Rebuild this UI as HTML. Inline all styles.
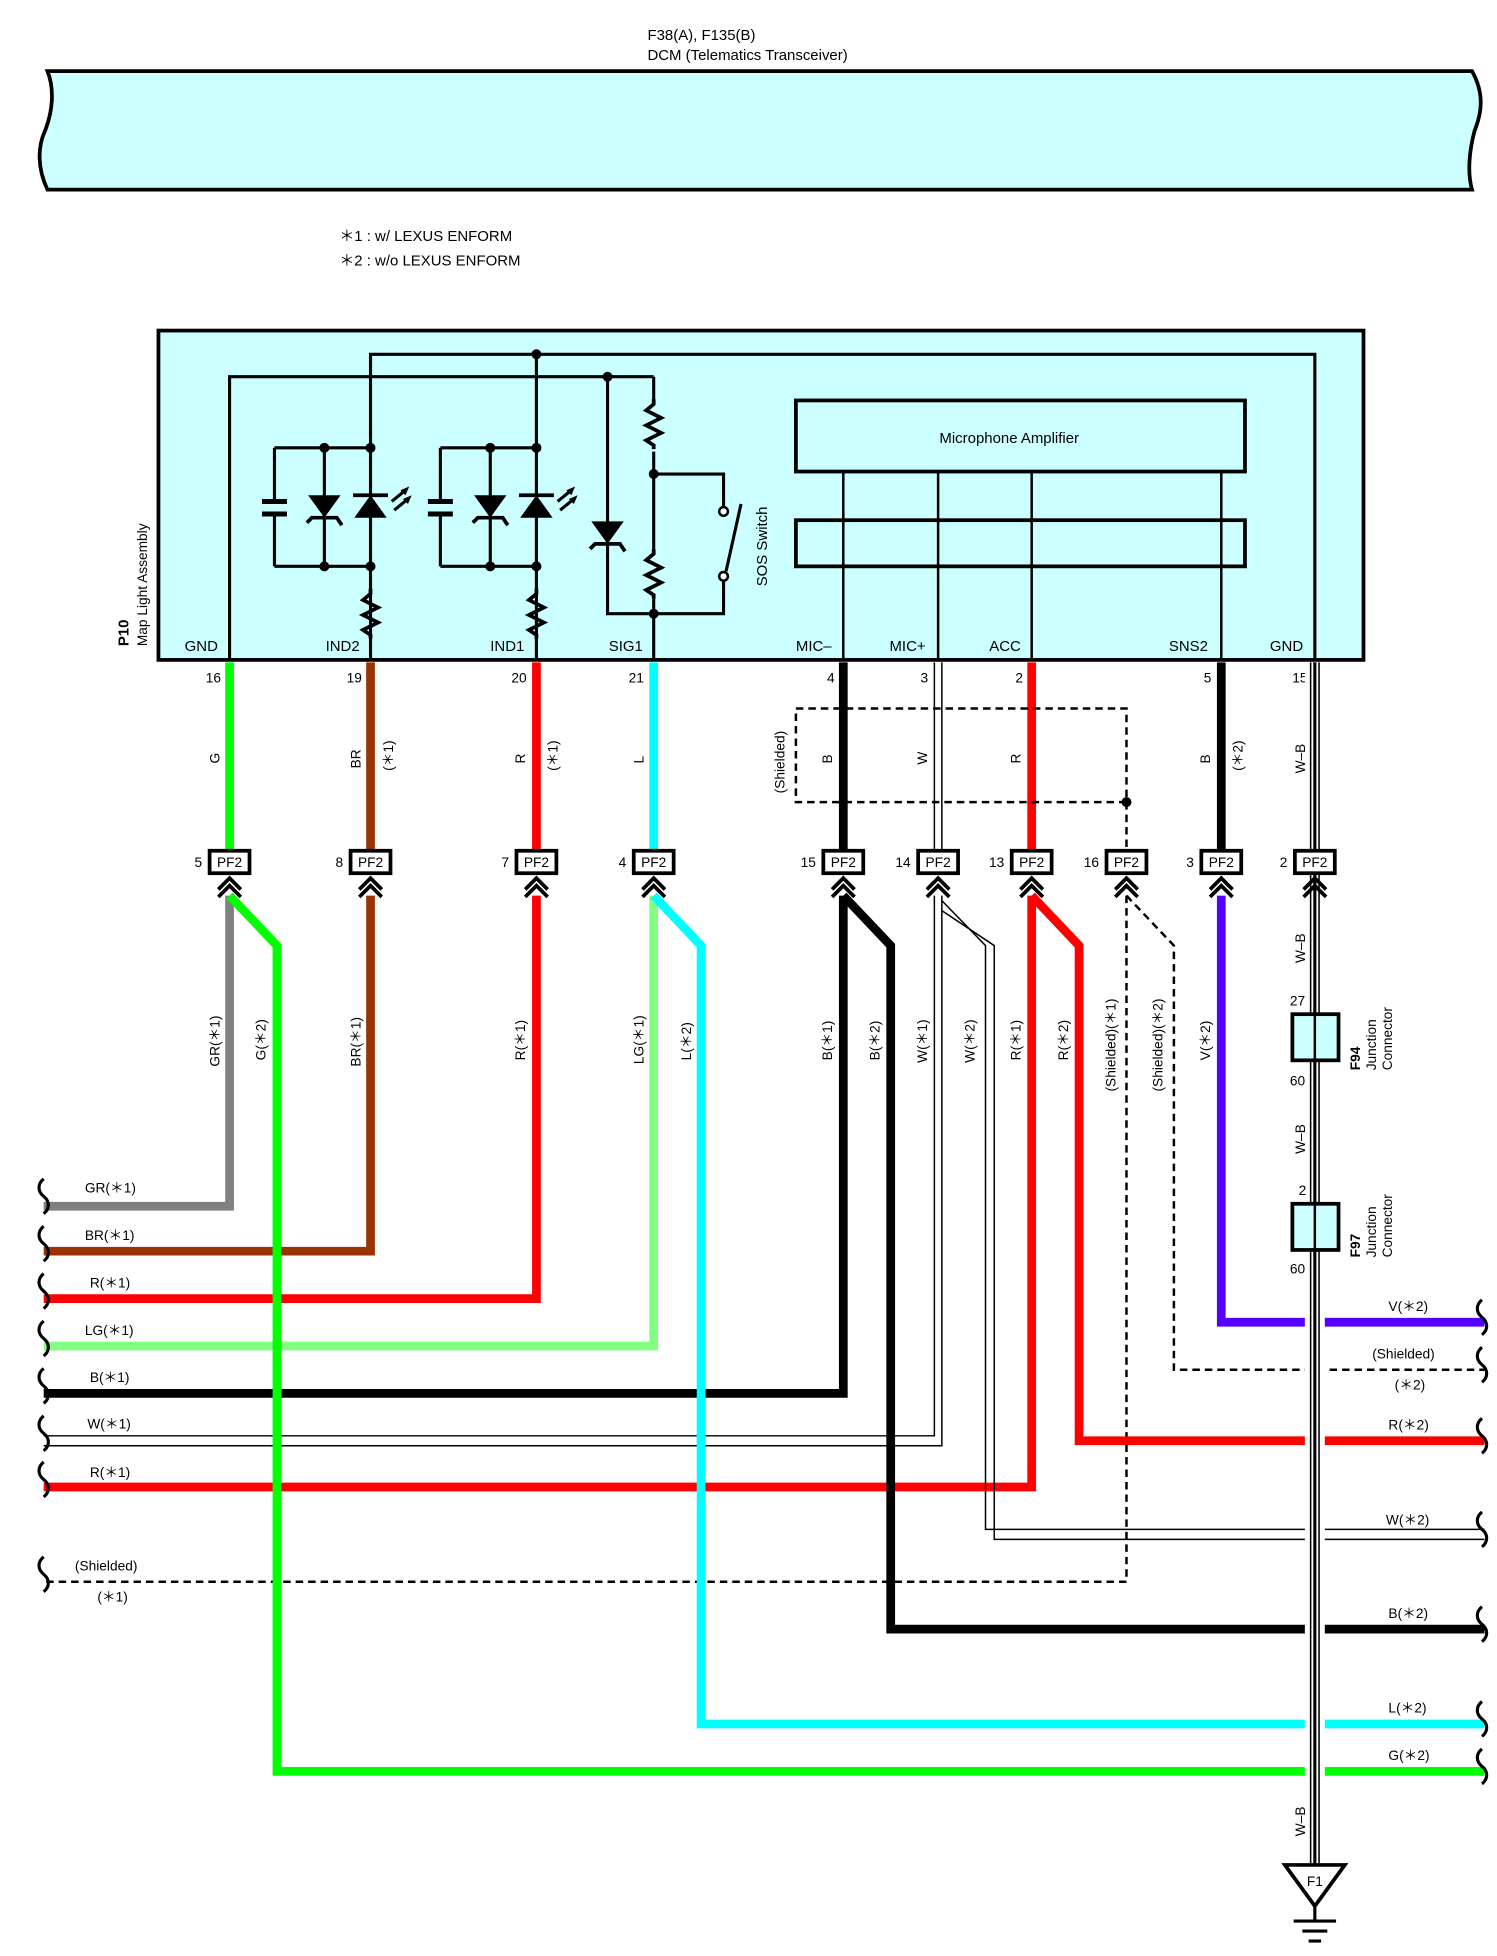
<!DOCTYPE html>
<html><head><meta charset="utf-8"><style>html,body{margin:0;padding:0;background:#fff}svg{display:block}text{font-family:"Liberation Sans",sans-serif;fill:#000}</style></head><body>
<svg width="1497" height="1956" viewBox="0 0 1200 1568" xmlns="http://www.w3.org/2000/svg">
<defs>
<g id="chev"><polyline points="-9,13 0,4 9,13" fill="none" stroke="#000" stroke-width="3"/><polyline points="-9,19 0,10 9,19" fill="none" stroke="#000" stroke-width="3"/></g>
<g id="res"><polyline points="0,0 0,4 -6,9 6,15 -6,21 6,27 -6,33 0,37 0,40" fill="none" stroke="#000" stroke-width="3"/></g>
<g id="zd"><polygon points="-13,0 13,0 0,18" fill="#000"/><polyline points="-14,22 -10,18 10,18 14,24" fill="none" stroke="#000" stroke-width="3"/></g>
<g id="led"><polygon points="-13,18 13,18 0,0" fill="#000"/><line x1="-14" y1="0" x2="14" y2="0" stroke="#000" stroke-width="3"/><line x1="17" y1="5" x2="28" y2="-4" stroke="#000" stroke-width="2.5"/><line x1="19" y1="12" x2="30" y2="3" stroke="#000" stroke-width="2.5"/><polygon points="31,-7 24,-4 28,0" fill="#000"/><polygon points="33,0 26,3 30,7" fill="#000"/></g>
</defs>
<text x="519" y="32" font-size="12">F38(A), F135(B)</text>
<text x="519" y="48" font-size="12">DCM (Telematics Transceiver)</text>
<path d="M38,57 L1180,57 C1190,75 1188,90 1182,105 C1178,120 1176,138 1180,152 L38,152 C30,135 30,118 36,105 C42,90 44,72 38,57 Z" fill="#ccffff" stroke="#000" stroke-width="3"/>
<text x="272" y="193" font-size="12">＊1 : w/ LEXUS ENFORM</text>
<text x="272" y="213" font-size="12">＊2 : w/o LEXUS ENFORM</text>
<rect x="127" y="265" width="966" height="264" fill="#ccffff" stroke="#000" stroke-width="3"/>
<text transform="translate(103,518) rotate(-90)" font-size="12" font-weight="bold">P10</text>
<text transform="translate(118,518) rotate(-90)" font-size="11">Map Light Assembly</text>
<g fill="none" stroke="#000" stroke-width="2.5">
<polyline points="184,529 184,302 524,302"/>
<polyline points="297,529 297,284 1054,284 1054,529"/>
<line x1="430" y1="284" x2="430" y2="529"/>
<polyline points="220,359 297,359"/><polyline points="220,454 297,454"/>
<line x1="220" y1="359" x2="220" y2="402"/><line x1="220" y1="412" x2="220" y2="454"/>
<line x1="260" y1="359" x2="260" y2="454"/>
<polyline points="353,359 430,359"/><polyline points="353,454 430,454"/>
<line x1="353" y1="359" x2="353" y2="402"/><line x1="353" y1="412" x2="353" y2="454"/>
<line x1="393" y1="359" x2="393" y2="454"/>
<polyline points="487,302 487,492 580,492 580,466"/>
<polyline points="524,302 524,322"/><line x1="524" y1="362" x2="524" y2="440"/><line x1="524" y1="480" x2="524" y2="529"/>
<polyline points="524,380 580,380 580,406"/>
<line x1="582" y1="458" x2="594" y2="404"/>
</g>
<g stroke="#000" stroke-width="4"><line x1="210" y1="402" x2="230" y2="402"/><line x1="210" y1="412" x2="230" y2="412"/><line x1="343" y1="402" x2="363" y2="402"/><line x1="343" y1="412" x2="363" y2="412"/></g>
<circle cx="580" cy="410" r="3.5" fill="#fff" stroke="#000" stroke-width="2"/><circle cx="580" cy="462" r="3.5" fill="#fff" stroke="#000" stroke-width="2"/>
<use href="#res" x="297" y="472"/><use href="#res" x="430" y="472"/><use href="#res" x="524" y="320"/><use href="#res" x="524" y="440"/>
<use href="#zd" x="260" y="397"/><use href="#led" x="297" y="397"/><use href="#zd" x="393" y="397"/><use href="#led" x="430" y="397"/><use href="#zd" x="487" y="418"/>
<g fill="#000"><circle cx="430" cy="284" r="4"/><circle cx="487" cy="302" r="4"/><circle cx="260" cy="359" r="4"/><circle cx="297" cy="359" r="4"/><circle cx="260" cy="454" r="4"/><circle cx="297" cy="454" r="4"/><circle cx="393" cy="359" r="4"/><circle cx="430" cy="359" r="4"/><circle cx="393" cy="454" r="4"/><circle cx="430" cy="454" r="4"/><circle cx="524" cy="380" r="4"/><circle cx="524" cy="492" r="4"/></g>
<text transform="translate(615,470) rotate(-90)" font-size="12">SOS Switch</text>
<rect x="638" y="321" width="360" height="57" fill="none" stroke="#000" stroke-width="3"/>
<text x="809" y="355" font-size="12" text-anchor="middle">Microphone Amplifier</text>
<rect x="638" y="417" width="360" height="37" fill="none" stroke="#000" stroke-width="3"/>
<g stroke="#000" stroke-width="2"><line x1="676" y1="378" x2="676" y2="529"/><line x1="752" y1="378" x2="752" y2="529"/><line x1="827" y1="378" x2="827" y2="529"/><line x1="979" y1="378" x2="979" y2="529"/></g>
<g font-size="12"><text x="148" y="522">GND</text><text x="261" y="522">IND2</text><text x="393" y="522">IND1</text><text x="488" y="522">SIG1</text><text x="638" y="522">MIC–</text><text x="713" y="522">MIC+</text><text x="793" y="522">ACC</text><text x="937" y="522">SNS2</text><text x="1018" y="522">GND</text></g>
<g font-size="11" text-anchor="middle"><text x="171" y="547">16</text><text x="284" y="547">19</text><text x="416" y="547">20</text><text x="510" y="547">21</text><text x="666" y="547">4</text><text x="741" y="547">3</text><text x="817" y="547">2</text><text x="968" y="547">5</text><text x="1042" y="547">15</text></g>
<!-- lower wires -->
<g fill="none" stroke-linejoin="miter" stroke-width="7">
<polyline points="184,718 184,967 35,967" stroke="#808080"/>
<polyline points="297,718 297,1003 35,1003" stroke="#993300"/>
<polyline points="430,718 430,1041 35,1041" stroke="#ff0000"/>
<polyline points="524,718 524,1079 35,1079" stroke="#80ff80"/>
<polyline points="676,718 676,1117 35,1117" stroke="#000"/>
<g stroke="#000" stroke-width="1.2"><polyline points="749,718 749,1151 35,1151"/><polyline points="755,718 755,1159 35,1159"/></g>
<polyline points="827,718 827,1192 35,1192" stroke="#ff0000"/>
<polyline points="903,718 903,1268 35,1268" stroke="#000" stroke-width="2" stroke-dasharray="6,4"/>
<polyline points="184,718 222,758 222,1420 1190,1420" stroke="#00ff00"/>
<polyline points="524,718 562,758 562,1382 1190,1382" stroke="#00ffff"/>
<polyline points="676,718 714,758 714,1306 1190,1306" stroke="#000"/>
<g stroke="#000" stroke-width="1.2"><polyline points="755,722 790,758 790,1226 1190,1226"/><polyline points="755,730 797,758 797,1234 1190,1234"/></g>
<polyline points="827,718 865,758 865,1155 1190,1155" stroke="#ff0000"/>
<polyline points="903,718 941,758 941,1098 1190,1098" stroke="#000" stroke-width="2" stroke-dasharray="6,4"/>
<polyline points="979,718 979,1060 1190,1060" stroke="#5500ff"/>
</g>
<!-- upper wires -->
<g stroke-width="7">
<line x1="184" y1="531" x2="184" y2="682" stroke="#00ff00"/>
<line x1="297" y1="531" x2="297" y2="682" stroke="#993300"/>
<line x1="430" y1="531" x2="430" y2="682" stroke="#ff0000"/>
<line x1="524" y1="531" x2="524" y2="682" stroke="#00ffff"/>
<line x1="676" y1="531" x2="676" y2="682" stroke="#000"/>
<line x1="827" y1="531" x2="827" y2="682" stroke="#ff0000"/>
<line x1="979" y1="531" x2="979" y2="682" stroke="#000"/>
</g>
<g stroke="#000" stroke-width="1.2"><line x1="749" y1="531" x2="749" y2="682"/><line x1="755" y1="531" x2="755" y2="682"/></g>
<rect x="638" y="568" width="265" height="75" fill="none" stroke="#000" stroke-width="2" stroke-dasharray="6,4"/>
<line x1="903" y1="643" x2="903" y2="682" stroke="#000" stroke-width="2" stroke-dasharray="6,4"/>
<circle cx="903" cy="643" r="4" fill="#000"/>
<!-- W-B -->
<line x1="1054" y1="531" x2="1054" y2="1495" stroke="#fff" stroke-width="16"/>
<line x1="1054" y1="531" x2="1054" y2="1495" stroke="#000" stroke-width="8"/>
<line x1="1054" y1="531" x2="1054" y2="1495" stroke="#fff" stroke-width="5.5"/>
<line x1="1054" y1="531" x2="1054" y2="1495" stroke="#000" stroke-width="2.5"/>
<rect x="1036" y="813" width="37" height="37" fill="#ccffff" stroke="#000" stroke-width="3"/><line x1="1054" y1="813" x2="1054" y2="850" stroke="#000" stroke-width="2"/>
<rect x="1036" y="965" width="37" height="37" fill="#ccffff" stroke="#000" stroke-width="3"/><line x1="1054" y1="965" x2="1054" y2="1002" stroke="#000" stroke-width="2"/>
<polygon points="1030,1495 1078,1495 1054,1528" fill="#fff" stroke="#000" stroke-width="3"/>
<text x="1054" y="1512" font-size="11" text-anchor="middle">F1</text>
<g stroke="#000" stroke-width="2.5"><line x1="1054" y1="1528" x2="1054" y2="1540"/><line x1="1037" y1="1540" x2="1071" y2="1540"/><line x1="1044" y1="1548" x2="1064" y2="1548"/><line x1="1049" y1="1556" x2="1059" y2="1556"/></g>
<!-- PF2 boxes -->
<g font-size="11">
<g transform="translate(184,0)"><rect x="-16" y="682" width="32" height="18" fill="#fff" stroke="#000" stroke-width="3"/><text x="0" y="695" text-anchor="middle">PF2</text><text x="-22" y="695" text-anchor="end">5</text><use href="#chev" y="700"/></g>
<g transform="translate(297,0)"><rect x="-16" y="682" width="32" height="18" fill="#fff" stroke="#000" stroke-width="3"/><text x="0" y="695" text-anchor="middle">PF2</text><text x="-22" y="695" text-anchor="end">8</text><use href="#chev" y="700"/></g>
<g transform="translate(430,0)"><rect x="-16" y="682" width="32" height="18" fill="#fff" stroke="#000" stroke-width="3"/><text x="0" y="695" text-anchor="middle">PF2</text><text x="-22" y="695" text-anchor="end">7</text><use href="#chev" y="700"/></g>
<g transform="translate(524,0)"><rect x="-16" y="682" width="32" height="18" fill="#fff" stroke="#000" stroke-width="3"/><text x="0" y="695" text-anchor="middle">PF2</text><text x="-22" y="695" text-anchor="end">4</text><use href="#chev" y="700"/></g>
<g transform="translate(676,0)"><rect x="-16" y="682" width="32" height="18" fill="#fff" stroke="#000" stroke-width="3"/><text x="0" y="695" text-anchor="middle">PF2</text><text x="-22" y="695" text-anchor="end">15</text><use href="#chev" y="700"/></g>
<g transform="translate(752,0)"><rect x="-16" y="682" width="32" height="18" fill="#fff" stroke="#000" stroke-width="3"/><text x="0" y="695" text-anchor="middle">PF2</text><text x="-22" y="695" text-anchor="end">14</text><use href="#chev" y="700"/></g>
<g transform="translate(827,0)"><rect x="-16" y="682" width="32" height="18" fill="#fff" stroke="#000" stroke-width="3"/><text x="0" y="695" text-anchor="middle">PF2</text><text x="-22" y="695" text-anchor="end">13</text><use href="#chev" y="700"/></g>
<g transform="translate(903,0)"><rect x="-16" y="682" width="32" height="18" fill="#fff" stroke="#000" stroke-width="3"/><text x="0" y="695" text-anchor="middle">PF2</text><text x="-22" y="695" text-anchor="end">16</text><use href="#chev" y="700"/></g>
<g transform="translate(979,0)"><rect x="-16" y="682" width="32" height="18" fill="#fff" stroke="#000" stroke-width="3"/><text x="0" y="695" text-anchor="middle">PF2</text><text x="-22" y="695" text-anchor="end">3</text><use href="#chev" y="700"/></g>
<g transform="translate(1054,0)"><rect x="-16" y="682" width="32" height="18" fill="#fff" stroke="#000" stroke-width="3"/><text x="0" y="695" text-anchor="middle">PF2</text><text x="-22" y="695" text-anchor="end">2</text><use href="#chev" y="700"/></g>
</g>
<!-- rotated labels -->
<g font-size="11">
<text transform="translate(176,612) rotate(-90)">G</text>
<text transform="translate(289,616) rotate(-90)">BR</text><text transform="translate(315,618) rotate(-90)">(＊1)</text>
<text transform="translate(421,612) rotate(-90)">R</text><text transform="translate(447,618) rotate(-90)">(＊1)</text>
<text transform="translate(516,612) rotate(-90)">L</text>
<text transform="translate(629,636) rotate(-90)">(Shielded)</text>
<text transform="translate(667,612) rotate(-90)">B</text>
<text transform="translate(743,613) rotate(-90)">W</text>
<text transform="translate(818,612) rotate(-90)">R</text>
<text transform="translate(970,612) rotate(-90)">B</text><text transform="translate(996,618) rotate(-90)">(＊2)</text>
<text transform="translate(1046,620) rotate(-90)">W–B</text>
<text transform="translate(176,855) rotate(-90)">GR(＊1)</text>
<text transform="translate(213,850) rotate(-90)">G(＊2)</text>
<text transform="translate(289,855) rotate(-90)">BR(＊1)</text>
<text transform="translate(421,850) rotate(-90)">R(＊1)</text>
<text transform="translate(516,853) rotate(-90)">LG(＊1)</text>
<text transform="translate(554,850) rotate(-90)">L(＊2)</text>
<text transform="translate(667,850) rotate(-90)">B(＊1)</text>
<text transform="translate(705,850) rotate(-90)">B(＊2)</text>
<text transform="translate(743,852) rotate(-90)">W(＊1)</text>
<text transform="translate(781,852) rotate(-90)">W(＊2)</text>
<text transform="translate(818,850) rotate(-90)">R(＊1)</text>
<text transform="translate(856,850) rotate(-90)">R(＊2)</text>
<text transform="translate(894,875) rotate(-90)">(Shielded)(＊1)</text>
<text transform="translate(932,875) rotate(-90)">(Shielded)(＊2)</text>
<text transform="translate(970,850) rotate(-90)">V(＊2)</text>
<text transform="translate(1046,772) rotate(-90)">W–B</text>
<text transform="translate(1046,925) rotate(-90)">W–B</text>
<text transform="translate(1046,1472) rotate(-90)">W–B</text>
<text x="1034" y="806">27</text><text x="1034" y="870">60</text><text x="1041" y="958">2</text><text x="1034" y="1021">60</text>
<text transform="translate(1090,858) rotate(-90)" font-weight="bold">F94</text>
<text transform="translate(1103,858) rotate(-90)">Junction</text><text transform="translate(1116,858) rotate(-90)">Connector</text>
<text transform="translate(1090,1008) rotate(-90)" font-weight="bold">F97</text>
<text transform="translate(1103,1008) rotate(-90)">Junction</text><text transform="translate(1116,1008) rotate(-90)">Connector</text>
<text x="68" y="956">GR(＊1)</text><text x="68" y="994">BR(＊1)</text><text x="72" y="1032">R(＊1)</text><text x="68" y="1070">LG(＊1)</text><text x="72" y="1108">B(＊1)</text><text x="70" y="1145">W(＊1)</text><text x="72" y="1184">R(＊1)</text><text x="60" y="1259">(Shielded)</text><text x="78" y="1284">(＊1)</text>
<text x="1113" y="1051">V(＊2)</text><text x="1100" y="1089">(Shielded)</text><text x="1118" y="1114">(＊2)</text><text x="1113" y="1146">R(＊2)</text><text x="1111" y="1222">W(＊2)</text><text x="1113" y="1297">B(＊2)</text><text x="1113" y="1373">L(＊2)</text><text x="1113" y="1411">G(＊2)</text>
</g>
<!-- brackets -->
<g fill="none" stroke="#000" stroke-width="2.5">
<path d="M35,945 c-5,4 -5,10 0,14 c5,4 5,10 0,14 M35,983 c-5,4 -5,10 0,14 c5,4 5,10 0,14 M35,1021 c-5,4 -5,10 0,14 c5,4 5,10 0,14 M35,1059 c-5,4 -5,10 0,14 c5,4 5,10 0,14 M35,1097 c-5,4 -5,10 0,14 c5,4 5,10 0,14 M35,1135 c-5,4 -5,10 0,14 c5,4 5,10 0,14 M35,1172 c-5,4 -5,10 0,14 c5,4 5,10 0,14 M35,1248 c-5,4 -5,10 0,14 c5,4 5,10 0,14"/>
<path d="M1188,1042 c-5,4 -5,10 0,14 c5,4 5,10 0,14 M1188,1080 c-5,4 -5,10 0,14 c5,4 5,10 0,14 M1188,1137 c-5,4 -5,10 0,14 c5,4 5,10 0,14 M1188,1212 c-5,4 -5,10 0,14 c5,4 5,10 0,14 M1188,1288 c-5,4 -5,10 0,14 c5,4 5,10 0,14 M1188,1364 c-5,4 -5,10 0,14 c5,4 5,10 0,14 M1188,1402 c-5,4 -5,10 0,14 c5,4 5,10 0,14"/>
</g>
</svg>
</body></html>
